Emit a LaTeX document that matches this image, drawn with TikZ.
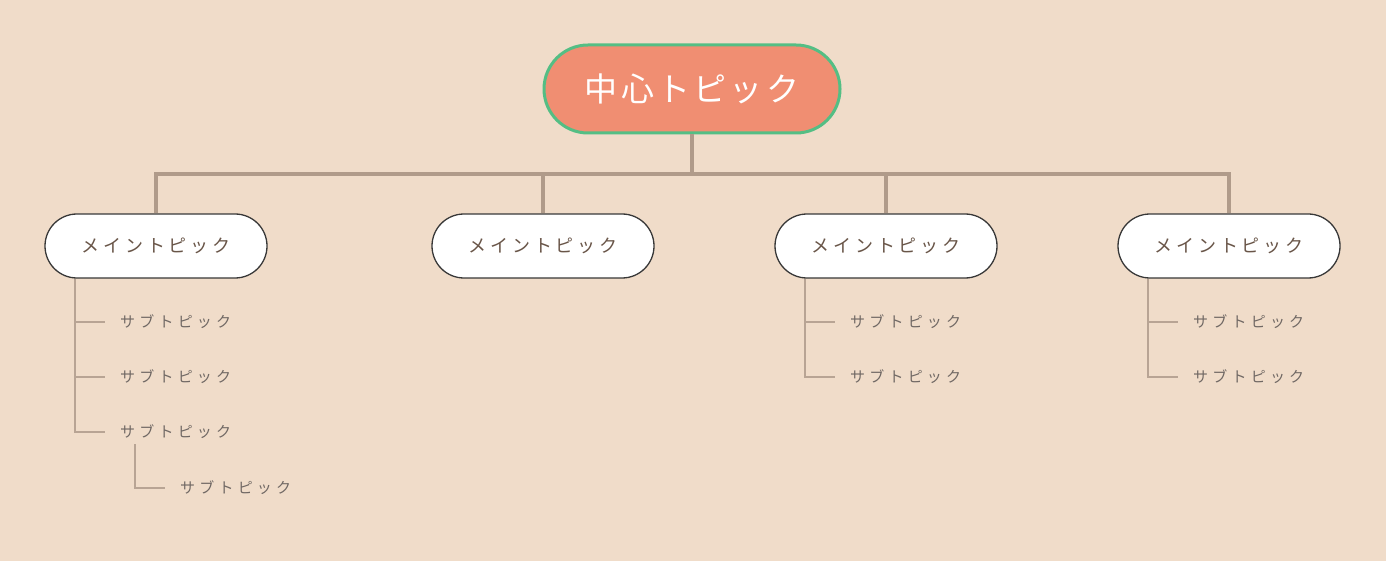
\documentclass[tikz,border=0pt]{standalone}
\usepackage{fontspec}
\newfontfamily\jpfont{Noto Sans CJK JP}
\usetikzlibrary{positioning,calc}
\definecolor{paper}{RGB}{240,220,201}
\definecolor{coral}{RGB}{240,142,114}
\definecolor{mint}{RGB}{84,190,132}
\definecolor{trunkC}{RGB}{176,155,138}
\definecolor{twigC}{RGB}{184,164,148}
\definecolor{mainTxt}{RGB}{105,85,72}
\definecolor{subTxt}{RGB}{112,104,100}
\tikzset{
  centre/.style={draw=mint, line width=3pt, fill=coral, text=white,
    minimum width=296pt, minimum height=88pt, rounded corners=44pt,
    font=\jpfont\fontsize{33}{33}\selectfont\addfontfeatures{LetterSpace=10}},
  maintopic/.style={draw=black!78, line width=1.3pt, fill=white, text=mainTxt,
    minimum width=222pt, minimum height=64pt, rounded corners=32pt,
    font=\jpfont\fontsize{18}{18}\selectfont\addfontfeatures{LetterSpace=21}},
  subtopic/.style={anchor=west, inner sep=0pt, text=subTxt,
    font=\jpfont\fontsize{15}{15}\selectfont\addfontfeatures{LetterSpace=28}},
  trunk/.style={draw=trunkC, line width=3.2pt},
  twig/.style={draw=twigC, line width=1.6pt}
}
\begin{document}
\begin{tikzpicture}[x=1pt,y=-1pt]
\useasboundingbox[fill=paper] (0,0) rectangle (1386,561);
% central topic
\node[centre] (center) at (692,89) {中心トピック};
% main topics
\node[maintopic] (mainA) at (156,246) {メイントピック};
\node[maintopic] (mainB) at (543,246) {メイントピック};
\node[maintopic] (mainC) at (886,246) {メイントピック};
\node[maintopic] (mainD) at (1229,246) {メイントピック};
\coordinate (bus) at (692,174);
\draw[trunk] (center.south) -- (bus);
\draw[trunk] (mainA.north) |- (bus);
\draw[trunk] (mainD.north) |- (bus);
\draw[trunk] (mainB.north) -- (mainB.north |- bus);
\draw[trunk] (mainC.north) -- (mainC.north |- bus);
% subtopics
\node[subtopic] (subA1) at (120,322) {サブトピック};
\node[subtopic] (subA2) at (120,377) {サブトピック};
\node[subtopic] (subA3) at (120,432) {サブトピック};
\node[subtopic] (subA4) at (180,488) {サブトピック};
\node[subtopic] (subC1) at (850,322) {サブトピック};
\node[subtopic] (subC2) at (850,377) {サブトピック};
\node[subtopic] (subD1) at (1193,322) {サブトピック};
\node[subtopic] (subD2) at (1193,377) {サブトピック};
% branch lines
\draw[twig] (mainA.south -| 75,0) |- ([xshift=-15pt]subA3.west);
\draw[twig] ([xshift=-45pt]subA1.west) -- ([xshift=-15pt]subA1.west);
\draw[twig] ([xshift=-45pt]subA2.west) -- ([xshift=-15pt]subA2.west);
\draw[twig] ([xshift=15pt,yshift=-5pt]subA3.south west) |- ([xshift=-15pt]subA4.west);
\draw[twig] (mainC.south -| 805,0) |- ([xshift=-15pt]subC2.west);
\draw[twig] ([xshift=-45pt]subC1.west) -- ([xshift=-15pt]subC1.west);
\draw[twig] (mainD.south -| 1148,0) |- ([xshift=-15pt]subD2.west);
\draw[twig] ([xshift=-45pt]subD1.west) -- ([xshift=-15pt]subD1.west);
\end{tikzpicture}
\end{document}
